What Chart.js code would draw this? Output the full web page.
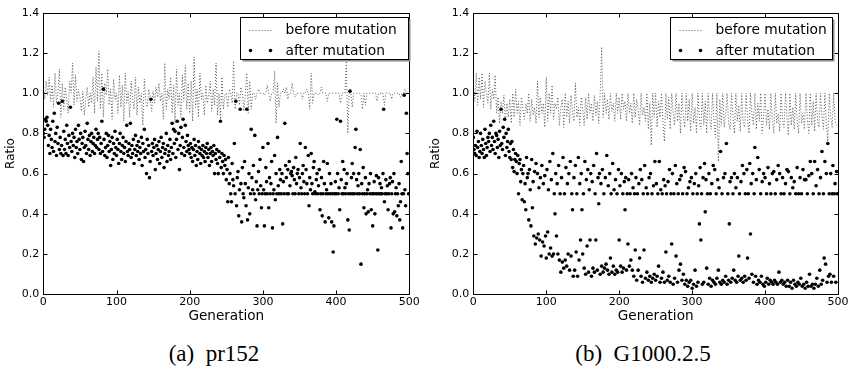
<!DOCTYPE html>
<html>
<head>
<meta charset="utf-8">
<script src="https://cdn.jsdelivr.net/npm/chart.js@4/dist/chart.umd.min.js"></script>
<style>
  html, body { margin:0; padding:0; background:#fff; }
  body { width:850px; height:370px; position:relative; overflow:hidden; }
  canvas { position:absolute; top:0; }
  #ca { left:0; }
  #cb { left:425px; }
  .cap { position:absolute; top:341px; line-height:26px; font-family:"Liberation Serif", "DejaVu Serif", serif; font-size:23px; color:#000; white-space:pre; transform:translateX(-50%); }
</style>
</head>
<body>
<canvas id="ca" width="425" height="330"></canvas>
<canvas id="cb" width="425" height="330"></canvas>
<div class="cap" style="left:214px;">(a)  pr152</div>
<div class="cap" style="left:643px;">(b)  G1000.2.5</div>
<script>
// ---------- DATA ----------
const seriesNames = ["before mutation", "after mutation"];
const xTicks = [0, 100, 200, 300, 400, 500];
const yTicks = [0.0, 0.2, 0.4, 0.6, 0.8, 1.0, 1.2, 1.4];
const beforeStep = 2; // "before" values sampled every 2 generations

// Panel (a) pr152 — before mutation (generations 0,2,4,...)
const beforeA = [
1.02,0.97,1.06,0.99,1.08,0.96,1.04,0.93,1.1,0.95,1.0,1.12,0.88,1.05,0.92,1.03,0.97,0.9,1.06,1.0,1.15,0.94,1.09,0.96,1.02,
0.98,0.91,1.01,0.89,0.97,1.03,0.93,1.0,0.95,1.08,0.9,1.13,0.96,1.21,0.92,1.1,0.88,1.05,0.99,1.12,0.94,1.02,0.87,1.07,0.97,
1.0,0.9,1.09,0.93,1.04,0.86,1.1,0.95,1.01,0.88,1.06,0.97,0.92,1.08,0.89,1.03,0.95,1.0,0.84,1.07,0.96,0.93,1.02,0.98,0.91,
1.01,0.95,1.03,0.98,1.05,0.96,1.0,0.87,1.15,0.92,1.02,0.97,1.08,0.9,1.04,0.85,1.12,0.94,1.0,0.88,1.09,0.96,1.14,0.92,1.05,
0.9,1.06,0.86,1.18,0.93,1.02,0.88,1.1,0.97,1.0,0.89,1.04,0.95,0.99,1.06,0.91,1.02,0.94,1.15,0.89,1.0,0.87,1.08,0.92,0.99,
1.0,0.93,1.02,1.0,0.95,1.16,0.92,1.0,1.0,0.94,1.03,1.0,0.91,1.0,1.1,0.9,1.06,0.92,1.0,1.0,0.97,1.0,1.02,1.0,1.0,
1.0,0.99,1.0,1.04,1.0,0.96,1.0,1.0,1.11,0.85,1.05,0.93,1.0,1.0,1.02,1.0,1.03,0.97,1.0,1.0,1.05,1.0,0.98,1.0,1.0,
1.0,1.0,0.97,1.0,1.0,1.02,1.0,0.92,1.1,0.95,1.0,1.0,1.0,0.99,1.0,1.03,1.0,1.0,1.0,0.96,1.0,1.0,1.0,1.0,1.0,
1.0,1.0,1.0,0.95,1.0,1.0,1.0,1.16,0.8,1.0,1.0,0.93,1.0,1.0,1.0,1.0,1.0,0.99,0.92,1.0,0.94,1.0,1.0,1.0,1.0,
1.0,1.0,1.0,0.96,1.0,1.0,1.0,1.0,0.94,1.0,1.0,1.0,1.0,0.97,1.0,1.0,1.0,1.0,1.0,0.98,1.0,1.0,1.02,1.0,1.0
];

// Panel (a) pr152 — after mutation (generations 0..499)
const afterA = [
0.8,0.78,0.82,0.87,0.86,0.88,0.84,0.74,0.79,0.7,0.82,0.77,0.73,0.86,0.71,0.9,0.76,0.8,0.69,0.83,0.75,0.95,0.72,0.78,0.7,
0.74,0.96,0.69,0.81,0.72,0.77,0.7,0.84,0.75,0.69,0.79,0.73,0.93,0.76,0.71,0.8,0.74,0.78,0.68,0.82,0.73,0.76,0.7,0.84,0.77,
0.72,0.8,0.67,0.75,0.78,0.66,0.73,0.81,0.74,0.7,0.85,0.77,0.72,0.79,0.69,0.76,0.8,0.71,0.75,0.78,0.7,0.74,0.82,0.73,0.77,
0.8,0.72,0.78,0.7,0.75,0.86,0.71,1.02,0.77,0.69,0.73,0.8,0.68,0.74,0.79,0.71,0.76,0.64,0.72,0.78,0.67,0.75,0.7,0.81,0.73,
0.69,0.77,0.72,0.65,0.75,0.8,0.71,0.67,0.74,0.78,0.7,0.73,0.66,0.76,0.84,0.71,0.69,0.75,0.72,0.85,0.68,0.74,0.7,0.77,0.65,
0.72,0.79,0.69,0.74,0.71,0.76,0.67,0.73,0.7,0.78,0.64,0.75,0.71,0.82,0.68,0.72,0.6,0.77,0.7,0.74,0.58,0.66,0.97,0.71,0.75,
0.69,0.73,0.77,0.62,0.7,0.74,0.67,0.72,0.76,0.65,0.71,0.78,0.68,0.73,0.75,0.63,0.7,0.72,0.8,0.66,0.74,0.69,0.71,0.77,0.67,
0.73,0.85,0.7,0.82,0.75,0.81,0.68,0.77,0.86,0.72,0.8,0.62,0.74,0.83,0.7,0.78,0.87,0.73,0.69,0.84,0.76,0.71,0.79,0.74,0.72,
0.7,0.75,0.68,0.73,0.66,0.72,0.77,0.69,0.74,0.64,0.71,0.67,0.76,0.73,0.7,0.65,0.72,0.69,0.74,0.68,0.71,0.66,0.73,0.7,0.75,
0.68,0.72,0.64,0.7,0.73,0.66,0.71,0.69,0.74,0.6,0.7,0.67,0.72,0.65,0.6,0.71,0.68,0.86,0.63,0.7,0.66,0.6,0.69,0.64,0.67,
0.57,0.62,0.46,0.68,0.55,0.6,0.5,0.46,0.65,0.57,0.54,0.75,0.5,0.96,0.44,0.58,0.61,0.39,0.52,0.92,0.55,0.36,0.63,0.5,0.48,
0.66,0.55,0.44,0.92,0.37,0.53,0.6,0.4,0.5,0.82,0.58,0.52,0.64,0.5,0.79,0.47,0.56,0.34,0.52,0.61,0.5,0.67,0.54,0.43,0.5,
0.73,0.52,0.34,0.5,0.63,0.56,0.5,0.75,0.43,0.58,0.5,0.55,0.66,0.33,0.5,0.52,0.69,0.47,0.6,0.5,0.78,0.54,0.5,0.62,0.57,
0.5,0.6,0.35,0.56,0.5,0.85,0.64,0.58,0.5,0.62,0.5,0.66,0.54,0.6,0.61,0.59,0.5,0.63,0.57,0.5,0.68,0.55,0.6,0.62,0.5,
0.58,0.75,0.53,0.5,0.6,0.64,0.56,0.5,0.73,0.62,0.55,0.5,0.69,0.44,0.58,0.52,0.7,0.55,0.5,0.63,0.66,0.51,0.5,0.57,0.6,
0.5,0.54,0.62,0.42,0.5,0.58,0.39,0.5,0.66,0.55,0.36,0.5,0.52,0.65,0.5,0.38,0.6,0.5,0.55,0.36,0.5,0.21,0.34,0.5,0.56,
0.5,0.87,0.6,0.5,0.53,0.42,0.86,0.57,0.5,0.66,0.5,0.62,0.53,0.5,0.55,0.6,0.37,0.5,0.32,1.01,0.5,0.58,0.65,0.5,0.6,
0.5,0.73,0.82,0.57,0.5,0.54,0.6,0.5,0.72,0.15,0.55,0.5,0.63,0.43,0.5,0.58,0.4,0.5,0.52,0.41,0.55,0.5,0.6,0.42,0.5,
0.34,0.5,0.56,0.4,0.5,0.59,0.5,0.22,0.58,0.5,0.55,0.5,0.53,0.5,0.6,0.92,0.46,0.5,0.57,0.5,0.54,0.42,0.5,0.55,0.58,
0.33,0.5,0.56,0.4,0.6,0.41,0.5,0.53,0.39,0.5,0.44,0.55,0.37,0.46,0.66,0.5,0.33,0.5,0.99,0.52,0.44,0.9,0.7,0.6,0.5
];

// Panel (b) G1000.2.5 — before mutation (generations 0,2,4,...)
const beforeB = [
1.05,0.96,1.1,0.94,1.08,0.97,1.1,0.93,1.06,1.0,0.95,1.1,0.92,1.02,0.97,1.09,0.9,0.98,0.85,0.96,0.9,0.99,0.86,0.95,0.88,
0.97,0.85,1.0,0.88,1.02,0.9,0.96,0.84,0.98,0.92,0.87,0.95,0.9,1.0,0.86,0.97,0.89,0.93,0.85,1.06,0.88,0.98,0.9,0.95,0.83,
1.08,0.86,1.0,0.9,1.04,0.87,0.95,0.92,0.98,0.84,0.93,0.97,0.83,1.0,0.88,0.96,0.85,0.99,0.9,0.86,1.05,0.88,0.93,0.84,0.98,
0.92,0.84,0.98,0.87,1.0,0.9,0.95,0.86,0.99,0.89,0.96,0.85,1.0,1.23,0.88,1.0,0.9,0.97,0.87,1.0,0.91,0.95,0.86,1.0,0.9,
0.98,0.87,1.0,0.92,0.96,0.86,1.0,0.9,0.95,0.85,1.0,0.88,0.97,0.92,0.84,1.0,0.89,0.93,0.86,1.0,0.82,0.95,0.74,1.0,0.88,
1.0,0.83,0.96,0.88,1.0,0.85,0.76,1.0,0.87,0.98,0.82,1.0,0.9,0.84,1.0,0.86,0.95,0.8,1.0,0.88,0.83,1.0,0.86,0.97,0.81,
1.0,0.85,0.93,0.8,1.0,0.87,0.82,1.0,0.84,0.96,0.8,1.0,0.88,0.82,1.0,0.86,0.78,1.0,0.66,0.97,0.84,1.0,0.83,0.9,1.0,
0.85,0.82,1.0,0.88,0.8,1.0,0.86,0.94,0.81,1.0,0.85,0.83,1.0,0.87,0.8,1.0,0.9,0.84,1.0,0.82,0.95,0.86,1.0,0.8,0.88,
1.0,0.84,0.92,0.82,1.0,0.87,0.8,1.0,0.85,0.9,0.81,1.0,0.86,0.83,1.0,0.88,0.79,1.0,0.84,0.93,0.82,1.0,0.86,0.8,1.0,
0.85,0.9,0.82,1.0,0.87,0.8,1.0,0.84,0.96,0.81,1.0,0.86,0.83,1.0,0.89,0.82,1.0,0.85,0.76,1.0,0.88,0.83,1.0,0.86,0.84
];

// Panel (b) G1000.2.5 — after mutation (generations 0..499)
const afterB = [
0.78,0.72,0.7,0.74,0.69,0.81,0.73,0.76,0.68,0.71,0.8,0.74,0.7,0.77,0.72,0.68,0.82,0.75,0.69,0.73,0.78,0.76,0.8,0.71,0.84,
0.74,0.78,0.72,0.86,0.76,0.7,0.8,0.79,0.73,0.77,0.68,0.81,0.74,0.92,0.75,0.72,0.83,0.78,0.87,0.69,0.8,0.73,0.76,0.82,0.71,
0.68,0.75,0.67,0.76,0.63,0.72,0.61,0.67,0.7,0.66,0.6,0.69,0.5,0.65,0.67,0.56,0.62,0.47,0.6,0.64,0.46,0.55,0.42,0.68,0.58,
0.6,0.37,0.62,0.52,0.34,0.67,0.43,0.56,0.29,0.61,0.25,0.65,0.28,0.6,0.3,0.53,0.27,0.58,0.19,0.64,0.26,0.55,0.24,0.59,0.29,
0.18,0.62,0.31,0.52,0.2,0.66,0.23,0.57,0.19,0.7,0.2,0.5,0.4,0.6,0.29,0.55,0.2,0.64,0.17,0.5,0.11,0.58,0.16,0.68,0.13,
0.5,0.17,0.63,0.14,0.55,0.2,0.6,0.12,0.66,0.19,0.5,0.42,0.09,0.58,0.12,0.64,0.21,0.5,0.09,0.68,0.17,0.55,0.27,0.6,0.42,
0.2,0.5,0.13,0.66,0.1,0.57,0.24,0.62,0.11,0.52,0.27,0.6,0.09,0.56,0.13,0.64,0.11,0.5,0.27,0.7,0.12,0.58,0.45,0.6,0.1,
0.55,0.14,0.62,0.11,0.5,0.13,0.58,0.15,0.69,0.12,0.54,0.1,0.6,0.18,0.5,0.11,0.65,0.14,0.52,0.1,0.57,0.12,0.5,0.11,0.62,
0.27,0.54,0.14,0.6,0.11,0.5,0.13,0.56,0.42,0.58,0.12,0.5,0.25,0.57,0.14,0.5,0.17,0.6,0.12,0.53,0.09,0.5,0.22,0.58,0.07,
0.5,0.12,0.55,0.18,0.62,0.09,0.57,0.06,0.5,0.22,0.64,0.08,0.53,0.11,0.5,0.07,0.58,0.09,0.6,0.06,0.5,0.08,0.54,0.1,0.66,
0.07,0.55,0.09,0.5,0.14,0.66,0.06,0.52,0.08,0.5,0.11,0.57,0.06,0.54,0.21,0.5,0.07,0.56,0.09,0.62,0.06,0.5,0.25,0.6,0.05,
0.5,0.08,0.64,0.19,0.55,0.06,0.5,0.12,0.57,0.15,0.59,0.07,0.5,0.1,0.63,0.05,0.61,0.07,0.5,0.04,0.53,0.06,0.56,0.07,0.58,
0.03,0.5,0.05,0.55,0.12,0.6,0.04,0.5,0.06,0.54,0.35,0.63,0.27,0.5,0.05,0.58,0.06,0.65,0.41,0.57,0.13,0.5,0.05,0.6,0.08,
0.5,0.04,0.55,0.07,0.64,0.06,0.62,0.05,0.5,0.08,0.57,0.12,0.53,0.06,0.71,0.05,0.5,0.07,0.58,0.06,0.6,0.09,0.75,0.05,0.5,
0.07,0.35,0.56,0.06,0.58,0.08,0.5,0.12,0.6,0.07,0.53,0.06,0.58,0.09,0.19,0.5,0.07,0.56,0.08,0.64,0.06,0.6,0.09,0.5,0.07,
0.62,0.18,0.5,0.08,0.65,0.3,0.55,0.1,0.6,0.06,0.5,0.73,0.09,0.57,0.05,0.68,0.07,0.62,0.06,0.5,0.09,0.56,0.05,0.6,0.04,
0.58,0.06,0.5,0.08,0.63,0.05,0.55,0.07,0.5,0.06,0.6,0.05,0.61,0.07,0.5,0.06,0.57,0.05,0.64,0.11,0.6,0.06,0.5,0.07,0.58,
0.05,0.5,0.06,0.55,0.04,0.62,0.07,0.61,0.04,0.5,0.06,0.58,0.03,0.53,0.07,0.56,0.05,0.5,0.04,0.63,0.06,0.5,0.05,0.58,0.08,
0.5,0.04,0.62,0.05,0.57,0.03,0.57,0.06,0.5,0.04,0.59,0.1,0.66,0.04,0.6,0.05,0.5,0.03,0.66,0.05,0.54,0.08,0.62,0.04,0.5,
0.12,0.58,0.05,0.71,0.07,0.5,0.18,0.66,0.15,0.6,0.06,0.75,0.09,0.5,0.1,0.6,0.06,0.5,0.64,0.09,0.5,0.55,0.06,0.61,0.5
];

// ---------- RENDERING ----------
const FONT = '"DejaVu Sans", "Liberation Sans", sans-serif';

const framePlugin = {
  id: 'frame',
  afterDatasetsDraw(chart) {
    const {ctx, chartArea: a, scales: {x, y}} = chart;
    const L = Math.round(a.left) + 0.5, R = Math.round(a.right) + 0.5;
    const T = Math.round(a.top) + 0.5, B = Math.round(a.bottom) + 0.5;
    ctx.save();
    ctx.strokeStyle = '#000';
    ctx.lineWidth = 1;
    ctx.beginPath();
    ctx.rect(L, T, R - L, B - T);
    const tl = 4;
    x.ticks.forEach(t => {
      const px = Math.round(x.getPixelForValue(t.value)) + 0.5;
      ctx.moveTo(px, B); ctx.lineTo(px, B - tl);
      ctx.moveTo(px, T); ctx.lineTo(px, T + tl);
    });
    y.ticks.forEach(t => {
      const py = Math.round(y.getPixelForValue(t.value)) + 0.5;
      ctx.moveTo(L, py); ctx.lineTo(L + tl, py);
      ctx.moveTo(R, py); ctx.lineTo(R - tl, py);
    });
    ctx.stroke();
    ctx.restore();
  }
};

const legendPlugin = {
  id: 'boxLegend',
  afterDraw(chart, args, opts) {
    const {ctx, chartArea: a} = chart;
    const left = Math.round(a.right - opts.rightGap - opts.width) + 0.5;
    const top = Math.round(a.top + 4.5) + 0.5;
    const w = opts.width, h = 42;
    ctx.save();
    ctx.fillStyle = '#8c8c8c';
    ctx.fillRect(left + 2, top + 2, w, h);
    ctx.fillStyle = '#fff';
    ctx.fillRect(left, top, w, h);
    ctx.strokeStyle = '#000';
    ctx.lineWidth = 1;
    ctx.strokeRect(left, top, w, h);
    const ds = chart.data.datasets;
    const y1 = top + 12, y2 = top + 33;
    ctx.strokeStyle = ds[0].borderColor;
    ctx.setLineDash(ds[0].borderDash);
    ctx.beginPath();
    ctx.moveTo(left + 9, Math.round(y1) + 0.5);
    ctx.lineTo(left + 31, Math.round(y1) + 0.5);
    ctx.stroke();
    ctx.setLineDash([]);
    ctx.fillStyle = '#000';
    [left + 10, left + 30].forEach(cx => {
      ctx.beginPath();
      ctx.arc(cx, y2, ds[1].pointRadius, 0, Math.PI * 2);
      ctx.fill();
    });
    ctx.font = '13.8px ' + FONT;
    ctx.textBaseline = 'middle';
    ctx.textAlign = 'left';
    ctx.fillText(ds[0].label, left + 45, y1 + 1);
    ctx.fillText(ds[1].label, left + 45, y2 + 1);
    ctx.restore();
  }
};

function makeChart(id, before, after, yAxisWidth, rightPad, legendWidth, legendGap) {
  const beforePts = before.map((v, i) => ({x: i * beforeStep, y: v}));
  const afterPts = after.map((v, i) => ({x: i, y: v}));
  return new Chart(document.getElementById(id), {
    type: 'scatter',
    data: {
      datasets: [
        {
          type: 'line',
          label: seriesNames[0],
          data: beforePts,
          borderColor: '#5a5a5a',
          borderWidth: 1,
          borderDash: [1, 2],
          pointRadius: 0,
          tension: 0,
          fill: false,
          order: 2
        },
        {
          type: 'scatter',
          label: seriesNames[1],
          data: afterPts,
          backgroundColor: '#000',
          borderWidth: 0,
          pointRadius: 1.8,
          pointHoverRadius: 1.8,
          order: 1
        }
      ]
    },
    options: {
      responsive: false,
      animation: false,
      devicePixelRatio: 1,
      events: [],
      layout: { padding: { left: 0, right: rightPad, top: 12.7, bottom: 0 } },
      plugins: {
        legend: { display: false },
        tooltip: { enabled: false },
        boxLegend: { width: legendWidth, rightGap: legendGap }
      },
      scales: {
        x: {
          type: 'linear',
          min: xTicks[0],
          max: xTicks[xTicks.length - 1],
          afterBuildTicks: (s) => { s.ticks = xTicks.map(v => ({value: v})); },
          afterFit: (s) => { s.height = 35.7; },
          grid: { display: false, drawTicks: false },
          border: { display: false },
          ticks: {
            padding: 1.5,
            color: '#000',
            font: { family: FONT, size: 11 },
            maxRotation: 0,
            callback: (v) => String(v)
          },
          title: {
            display: true,
            text: 'Generation',
            color: '#000',
            font: { family: FONT, size: 13.6 },
            padding: { top: 0, bottom: 5 }
          }
        },
        y: {
          type: 'linear',
          min: yTicks[0],
          max: yTicks[yTicks.length - 1],
          afterBuildTicks: (s) => { s.ticks = yTicks.map(v => ({value: v})); },
          afterFit: (s) => { s.width = yAxisWidth; },
          grid: { display: false, drawTicks: false },
          border: { display: false },
          ticks: {
            padding: 4,
            color: '#000',
            font: { family: FONT, size: 11 },
            callback: (v) => Number(v).toFixed(1)
          },
          title: {
            display: true,
            text: 'Ratio',
            color: '#000',
            font: { family: FONT, size: 12 },
            padding: { top: 4, bottom: 0 }
          }
        }
      }
    },
    plugins: [framePlugin, legendPlugin]
  });
}

makeChart('ca', beforeA, afterA, 43.3, 15.7, 168, 1);
makeChart('cb', beforeB, afterB, 48.3, 10.7, 162, 6);
</script>
</body>
</html>
